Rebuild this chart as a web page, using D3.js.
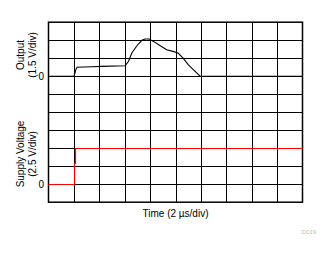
<!DOCTYPE html>
<html>
<head>
<meta charset="utf-8">
<script src="https://cdn.jsdelivr.net/npm/d3@7"></script>
<style>
  body { margin: 0; background: #fff; }
  svg { display: block; font-family: "Liberation Sans", Arial, sans-serif; }
  .lbl { font-size: 10px; fill: #000; }
</style>
</head>
<body>
<svg id="scope" width="331" height="254"></svg>
<script>
const width = 331;
const height = 254;

const margin = { top: 22.2, bottom: 51.8, left: 48.5, right: 28.5 };

// time in us, output in V
const outTime = [0, 1.97, 2.05, 2.15, 2.25, 3.4, 4.2, 6.04, 6.3, 6.56, 6.96, 7.35, 7.6, 7.93, 8.27, 8.8, 9.3, 9.8, 10.2, 10.6, 11.0, 11.4, 11.94, 20];
const outVolt = [0, 0, 0.12, 0.54, 0.74, 0.79, 0.82, 0.87, 1.24, 1.93, 2.54, 2.99, 3.1, 3.1, 2.9, 2.54, 2.2, 2.07, 1.93, 1.51, 0.96, 0.54, 0, 0];

// supply in V
const supTime = [0, 1.97, 1.97, 2.1, 2.1, 20];
const supVolt = [0, 0, 3.0, 3.0, 5, 5];

const divCount = 10;
const timeDiv = 2;     // us/div
const outScale = 1.5;  // V/div
const supScale = 2.5;  // V/div
const outZeroDiv = 7;
const supZeroDiv = 1;

const svg = d3.select("svg#scope");
const plotWidth = width - margin.left - margin.right;
const plotHeight = height - margin.top - margin.bottom;

const x = d3.scaleLinear().domain([0, divCount * timeDiv]).range([margin.left, margin.left + plotWidth]);
const yDiv = d3.scaleLinear().domain([0, divCount]).range([margin.top + plotHeight, margin.top]);

const outY = v => yDiv(outZeroDiv + v / outScale);
const supY = v => yDiv(supZeroDiv + v / supScale);

// put a 1px line on the same pixel row/column as the crisp grid lines
const snap = p => Math.ceil(p - 0.5) + 0.5;

/* GRID */
const gridX = d3.axisBottom(x).tickValues(d3.range(1, divCount).map(d => d * timeDiv)).tickSize(plotHeight).tickFormat("");
svg.append("g").attr("transform", "translate(0," + margin.top + ")").call(gridX)
  .call(g => g.select(".domain").remove())
  .selectAll("line").attr("stroke", "#000").attr("stroke-width", 1).attr("shape-rendering", "crispEdges");

const gridY = d3.axisLeft(yDiv).tickValues(d3.range(1, divCount)).tickSize(-plotWidth).tickFormat("");
svg.append("g").attr("transform", "translate(" + margin.left + ",0)").call(gridY)
  .call(g => g.select(".domain").remove())
  .selectAll("line").attr("stroke", "#000").attr("stroke-width", 1).attr("shape-rendering", "crispEdges");

svg.append("rect")
  .attr("x", margin.left).attr("y", margin.top)
  .attr("width", plotWidth).attr("height", plotHeight)
  .attr("fill", "none").attr("stroke", "#000").attr("stroke-width", 1.5);

/* TRACES */
const outLine = d3.line().x((d, i) => x(outTime[i])).y(d => outY(d));
svg.append("path").datum(outVolt).attr("d", outLine)
  .attr("fill", "none").attr("stroke", "#000").attr("stroke-width", 1.1);

const supLine = d3.line().x((d, i) => snap(x(supTime[i]))).y(d => snap(supY(d)));
svg.append("path").datum(supVolt).attr("d", supLine)
  .attr("fill", "none").attr("stroke", "#f00").attr("stroke-width", 1.2);

/* ZERO LABELS */
svg.append("text").attr("class", "lbl").attr("x", 44).attr("y", outY(0)).attr("dy", "0.35em")
  .attr("text-anchor", "end").text("0");
svg.append("text").attr("class", "lbl").attr("x", 44).attr("y", supY(0)).attr("dy", "0.35em")
  .attr("text-anchor", "end").text("0");

/* AXIS TITLES */
function yTitle(cy, lines) {
  const g = svg.append("g").attr("transform", "translate(20," + cy + ") rotate(-90)");
  lines.forEach((t, i) => {
    g.append("text").attr("class", "lbl").attr("x", 0).attr("y", i * 12)
      .attr("dy", "0.35em").attr("text-anchor", "middle").text(t);
  });
}
yTitle(55, ["Output", "(1.5 V/div)"]);
yTitle(154, ["Supply Voltage", "(2.5 V/div)"]);

svg.append("text").attr("class", "lbl")
  .attr("x", margin.left + plotWidth / 2).attr("y", 213).attr("dy", "0.35em")
  .attr("text-anchor", "middle").text("Time (2 \u00b5s/div)");

svg.append("text").attr("x", 309).attr("y", 232).attr("dy", "0.35em")
  .attr("text-anchor", "middle").attr("font-size", 6).attr("fill", "#bbb").text("D019");
</script>
</body>
</html>
